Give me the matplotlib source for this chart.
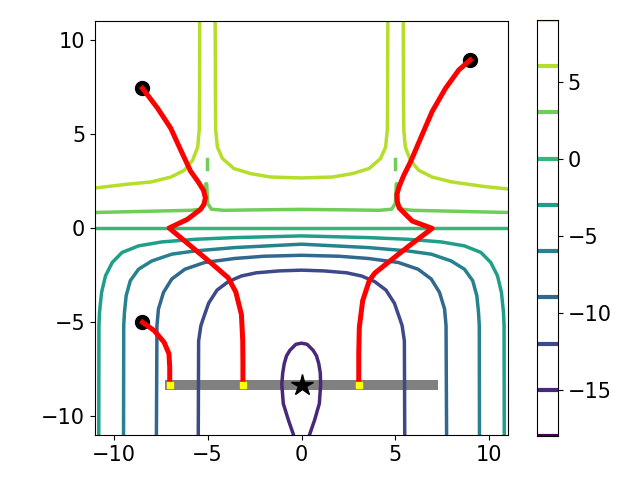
import numpy as np
import matplotlib
matplotlib.use('Agg')
import matplotlib.pyplot as plt

niveles = [-18, -15, -12, -9, -6, -3, 0, 3, 6, 9]

# curvas de nivel
c6_izq_x = [-11.2, -9.44, -8.0, -6.95, -6.24, -5.8, -5.53, -5.45, -5.43, -5.42]
c6_izq_y = [2.1, 2.31, 2.45, 2.71, 3.07, 3.6, 4.3, 5.19, 7.0, 11.2]
c6_med_x = [-4.6, -4.58, -4.57, -4.48, -4.21, -3.6, -2.71, -1.66, 0.0,
            1.66, 2.71, 3.6, 4.21, 4.48, 4.57, 4.58, 4.6]
c6_med_y = [11.2, 6.0, 5.19, 4.3, 3.69, 3.16, 2.89, 2.71, 2.66,
            2.71, 2.89, 3.16, 3.69, 4.3, 5.19, 6.0, 11.2]
c6_der_x = [5.42, 5.43, 5.45, 5.53, 5.8, 6.24, 6.95, 8.0, 9.61, 11.2]
c6_der_y = [11.2, 7.0, 5.19, 4.3, 3.6, 3.07, 2.71, 2.45, 2.22, 2.05]

c3_x = [-11.2, -7.7, -5.9, -5.35, -5.15, -5.1, -5.05, -5.0, -4.8, -4.15, -2.7, 0.0,
        2.7, 4.15, 4.8, 5.0, 5.05, 5.1, 5.15, 5.35, 5.9, 7.7, 11.2]
c3_y = [0.82, 0.9, 0.94, 1.0, 1.3, 2.35, 2.35, 1.3, 1.0, 0.94, 0.96, 0.99,
        0.96, 0.94, 1.0, 1.3, 2.35, 2.35, 1.3, 1.0, 0.94, 0.9, 0.82]
c3_punto_izq_x = [-5.02, -5.02]
c3_punto_izq_y = [3.16, 3.66]
c3_punto_der_x = [4.98, 4.98]
c3_punto_der_y = [3.16, 3.66]

c0_x = [-11.2, 11.2]
c0_y = [0.0, 0.0]

cm3_x = [-10.8, -10.79, -10.76, -10.65, -10.44, -10.08, -9.56, -8.68, -7.44, -5.68, -3.56, 0.0,
         3.56, 5.68, 7.44, 8.68, 9.56, 10.08, 10.44, 10.65, 10.76, 10.79, 10.8]
cm3_y = [-11.2, -5.19, -4.48, -3.42, -2.54, -1.83, -1.3, -0.95, -0.74, -0.6, -0.51, -0.42,
         -0.51, -0.6, -0.74, -0.95, -1.3, -1.83, -2.54, -3.42, -4.48, -5.19, -11.2]

cm6_x = [-9.48, -9.47, -9.43, -9.34, -9.12, -8.68, -7.97, -6.91, -5.68, -3.56, 0.0,
         3.56, 5.68, 6.91, 7.97, 8.68, 9.12, 9.34, 9.43, 9.47, 9.48]
cm6_y = [-11.2, -5.19, -4.48, -3.6, -2.8, -2.19, -1.75, -1.39, -1.22, -1.04, -0.86,
         -1.04, -1.22, -1.39, -1.75, -2.19, -2.8, -3.6, -4.48, -5.19, -11.2]

cm9_x = [-7.73, -7.7, -7.62, -7.35, -6.91, -6.21, -5.15, -3.56, -2.0, 0.0,
         2.0, 3.56, 5.15, 6.21, 6.91, 7.35, 7.62, 7.7, 7.73]
cm9_y = [-11.2, -5.19, -4.3, -3.42, -2.71, -2.19, -1.83, -1.62, -1.5, -1.45,
         -1.5, -1.62, -1.83, -2.19, -2.71, -3.42, -4.3, -5.19, -11.2]

cm12_x = [-5.5, -5.48, -5.36, -5.24, -4.95, -4.5, -3.9, -3.2, -2.4, -1.2, 0.0,
          1.2, 2.4, 3.2, 3.9, 4.5, 4.95, 5.24, 5.36, 5.48, 5.5]
cm12_y = [-11.2, -6.0, -5.19, -4.83, -4.0, -3.3, -2.85, -2.55, -2.38, -2.28, -2.24,
          -2.28, -2.38, -2.55, -2.85, -3.3, -4.0, -4.83, -5.19, -6.0, -11.2]

cm15_x = [-0.3, -0.44, -0.7, -0.97, -1.05, -1.0, -0.92, -0.8, -0.62, -0.3, 0.0,
          0.3, 0.62, 0.8, 0.92, 1.0, 1.02, 0.95, 0.7, 0.44, 0.3]
cm15_y = [-11.4, -10.95, -10.2, -9.33, -8.3, -7.7, -7.21, -6.8, -6.5, -6.18, -6.12,
          -6.18, -6.5, -6.8, -7.21, -7.7, -8.3, -9.33, -10.2, -10.95, -11.4]

curvas = [
    (6, c6_izq_x, c6_izq_y), (6, c6_med_x, c6_med_y), (6, c6_der_x, c6_der_y),
    (3, c3_x, c3_y), (3, c3_punto_izq_x, c3_punto_izq_y), (3, c3_punto_der_x, c3_punto_der_y),
    (0, c0_x, c0_y),
    (-3, cm3_x, cm3_y), (-6, cm6_x, cm6_y), (-9, cm9_x, cm9_y),
    (-12, cm12_x, cm12_y), (-15, cm15_x, cm15_y),
]

# trayectorias (rojo), inicio en negro y final en amarillo
tray1_x = [-8.47, -7.67, -6.97, -6.4, -5.91, -5.5, -5.22, -5.12, -5.2, -5.38, -6.08, -7.05,
           -5.91, -4.85, -3.9, -3.5, -3.2, -3.13, -3.12, -3.12]
tray1_y = [7.42, 6.37, 5.31, 4.07, 3.02, 2.45, 2.0, 1.6, 1.25, 0.99, 0.46, 0.0,
           -0.95, -1.83, -2.65, -3.4, -4.6, -6.0, -7.2, -8.36]
tray2_x = [-8.47, -7.85, -7.32, -7.06, -7.02, -7.02]
tray2_y = [-5.01, -5.45, -6.07, -6.68, -7.39, -8.36]
tray3_x = [8.99, 8.38, 7.67, 6.96, 6.35, 5.82, 5.45, 5.2, 5.08, 5.1, 5.2, 5.9, 6.96,
           5.73, 4.5, 3.9, 3.61, 3.26, 3.08, 3.05, 3.05]
tray3_y = [8.93, 8.4, 7.42, 6.19, 4.78, 3.54, 2.8, 2.2, 1.78, 1.4, 1.07, 0.37, -0.02,
           -0.95, -1.92, -2.4, -2.8, -3.86, -5.28, -6.68, -8.36]
trayectorias = [(tray1_x, tray1_y), (tray2_x, tray2_y), (tray3_x, tray3_y)]

# restriccion y optimo
barra_x = [-7.0, 7.0]
barra_y = [-8.36, -8.36]
optimo = (0.0, -8.36)

plt.rcParams['font.size'] = 15

fig = plt.figure(figsize=(6.4, 4.8), dpi=100)
ax = fig.add_axes([95 / 640, 45 / 480, 413 / 640, 414 / 480])
cax = fig.add_axes([537 / 640, 44 / 480, 21 / 640, 416 / 480])

cmap = plt.get_cmap('viridis')
norm = plt.Normalize(niveles[0], niveles[-1])

ax.plot(barra_x, barra_y, color='gray', linewidth=7.2, zorder=1)

for nivel, xs, ys in curvas:
    ax.plot(xs, ys, color=cmap(norm(nivel)), linewidth=2.5, zorder=2,
            solid_joinstyle='round')

for xs, ys in trayectorias:
    ax.plot(xs[0], ys[0], 'o', color='black', markersize=10, zorder=3)
    ax.plot(xs, ys, color='red', linewidth=3.6, zorder=4, solid_joinstyle='round')
    ax.plot(xs[-1], ys[-1], 's', color='yellow', markersize=4, zorder=5)

ax.plot(optimo[0], optimo[1], '*', color='black', markersize=16, zorder=6)

ax.set_xlim(-11, 11)
ax.set_ylim(-11, 11)
ax.set_xticks([-10, -5, 0, 5, 10])
ax.set_yticks([-10, -5, 0, 5, 10])

# barra de color de lineas de contorno
for nivel in niveles:
    cax.axhline(nivel, color=cmap(norm(nivel)), linewidth=3)
cax.set_ylim(niveles[0], niveles[-1])
cax.set_xticks([])
cax.yaxis.tick_right()
cax.set_yticks([-15, -10, -5, 0, 5])

fig.savefig('out.png')
